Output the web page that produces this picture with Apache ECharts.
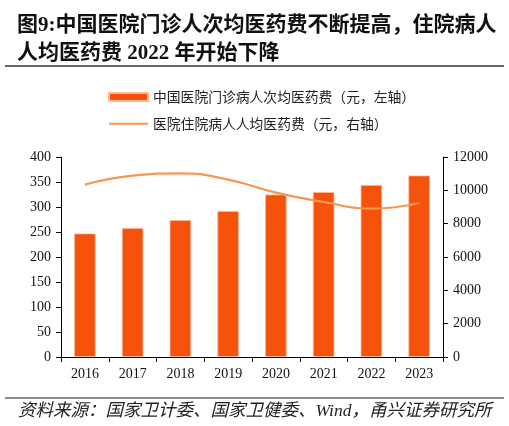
<!DOCTYPE html>
<html>
<head>
<meta charset="utf-8">
<script src="https://cdn.jsdelivr.net/npm/echarts@6/dist/echarts.min.js"></script>
<style>
html,body{margin:0;padding:0;background:#fff;}
#chart{width:509px;height:426px;}
</style>
</head>
<body>
<div id="chart"></div>
<script>
// 数据
var years = ['2016', '2017', '2018', '2019', '2020', '2021', '2022', '2023'];
var outpatientCost = [247, 258, 274, 292, 325, 330, 344, 363];   // 门诊次均医药费（左轴）
var inpatientCost = [10340, 10880, 11020, 10640, 9860, 9300, 8900, 9240]; // 住院人均医药费（右轴）
var leftTicks = [0, 400, 50];
var rightTicks = [0, 12000, 2000];

var serif = '"Liberation Serif", "Noto Sans CJK SC", serif';
var chart = echarts.init(document.getElementById('chart'));

var option = {
	backgroundColor: '#fff',
	animation: false,
	grid: {
		left: 61,
		right: 66,
		top: 157,
		bottom: 69
	},
	legend: {
		orient: 'vertical',
		left: 108,
		top: 90,
		padding: 0,
		itemWidth: 39,
		itemHeight: 8,
		itemGap: 13,
		textStyle: {
			fontFamily: '"Noto Sans CJK SC", sans-serif',
			fontSize: 13.8,
			color: '#222'
		},
		data: [
			{name: '中国医院门诊病人次均医药费（元，左轴）', icon: 'rect'},
			{name: '医院住院病人人均医药费（元，右轴）', itemStyle: {opacity: 0}}
		]
	},
	xAxis: {
		type: 'category',
		data: years,
		axisLine: {lineStyle: {color: '#000', width: 1}},
		axisTick: {show: true, length: 5, lineStyle: {color: '#000'}},
		axisLabel: {fontFamily: serif, fontSize: 14, color: '#111', margin: 10}
	},
	yAxis: [{
		type: 'value',
		min: leftTicks[0],
		max: leftTicks[1],
		interval: leftTicks[2],
		splitLine: {show: false},
		axisLine: {show: true, lineStyle: {color: '#000'}},
		axisTick: {show: true, length: 5, lineStyle: {color: '#000'}},
		axisLabel: {fontFamily: serif, fontSize: 14, color: '#111', margin: 10}
	}, {
		type: 'value',
		min: rightTicks[0],
		max: rightTicks[1],
		interval: rightTicks[2],
		splitLine: {show: false},
		axisLine: {show: true, lineStyle: {color: '#000'}},
		axisTick: {show: true, length: 5, lineStyle: {color: '#000'}},
		axisLabel: {
			fontFamily: serif, fontSize: 14, color: '#111', margin: 10,
			formatter: function(v) { return String(v); }
		}
	}],
	series: [{
		name: '中国医院门诊病人次均医药费（元，左轴）',
		type: 'bar',
		data: outpatientCost,
		barWidth: '45%',
		itemStyle: {color: '#F5520C', borderColor: '#FBB89A', borderWidth: 0.8}
	}, {
		name: '医院住院病人人均医药费（元，右轴）',
		type: 'line',
		yAxisIndex: 1,
		data: inpatientCost,
		smooth: 0.5,
		symbol: 'none',
		lineStyle: {color: '#F7964F', width: 2.2},
		itemStyle: {color: '#F7964F'}
	}],
	graphic: [{
		type: 'text',
		left: 17,
		top: 12,
		style: {
			text: '图9:中国医院门诊人次均医药费不断提高，住院病人\n人均医药费 2022 年开始下降',
			font: 'bold 21px "Liberation Serif", "Noto Sans CJK SC", serif',
			fill: '#111',
			lineHeight: 28
		}
	}, {
		type: 'line',
		shape: {x1: 5, y1: 66, x2: 504, y2: 66},
		style: {stroke: '#666', lineWidth: 2}
	}, {
		type: 'line',
		shape: {x1: 5, y1: 398, x2: 504, y2: 398},
		style: {stroke: '#666', lineWidth: 1.5}
	}, {
		type: 'text',
		left: 18,
		top: 403,
		style: {
			text: '资料来源：国家卫计委、国家卫健委、Wind，甬兴证券研究所',
			font: 'italic 17.5px "Liberation Serif", "Noto Sans CJK SC", serif',
			fill: '#222'
		}
	}]
};
chart.setOption(option);
</script>
</body>
</html>
